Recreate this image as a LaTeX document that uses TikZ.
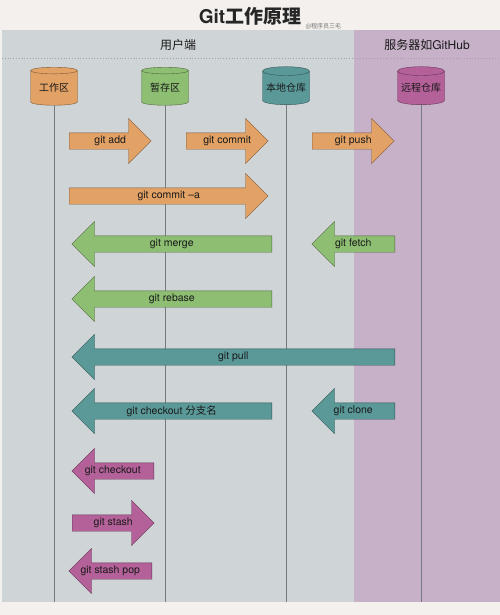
\documentclass[tikz,border=0pt]{standalone}
\usepackage{fontspec}
\setmainfont{TeX Gyre Heros}
\newfontfamily\cjk{Noto Sans CJK SC}
\usetikzlibrary{shapes.geometric,shapes.arrows}

\definecolor{pagebg}{RGB}{243,240,237}
\definecolor{clientbg}{RGB}{207,212,215}
\definecolor{serverbg}{RGB}{199,177,200}
\definecolor{lanegray}{RGB}{118,122,126}
\definecolor{cmdorange}{RGB}{226,161,101}
\definecolor{cmdgreen}{RGB}{141,190,114}
\definecolor{cmdteal}{RGB}{91,153,153}
\definecolor{cmdpink}{RGB}{180,97,154}

\tikzset{
  repo/.style={cylinder, shape border rotate=90, aspect=0.22, draw=#1!55!black, fill=#1,
    minimum width=47pt, minimum height=38pt, inner sep=0pt,
    font=\cjk\fontsize{10}{12}\selectfont, text=black!90},
  lane/.style={draw=lanegray, line width=0.9pt},
  cmd/.style={single arrow, draw=#1!55!black, fill=#1, single arrow head extend=14.5pt,
    text height=6pt, text depth=1.5pt, inner ysep=4.25pt, inner xsep=0pt, anchor=tail},
  cmdleft/.style={cmd=#1, shape border rotate=180},
  cmdtext/.style={font=\fontsize{10.5}{12}\selectfont, text=black!90, inner sep=0pt},
  header/.style={font=\cjk\fontsize{12}{14}\selectfont, text=black!90},
}

\begin{document}
\begin{tikzpicture}[x=1pt, y=-1pt]

\useasboundingbox (0,0) rectangle (500,615);
\fill[pagebg] (0,0) rectangle (500,615);

% Title
\node[font=\bfseries\fontsize{19}{22}\selectfont, text=black!85] (title) at (250,16) {Git{\cjk\bfseries 工作原理}};
\node[font=\cjk\fontsize{6}{7}\selectfont, text=black!55, anchor=west] (credit) at (302,26) {@程序员三毛};

% ===== Lanes: client and server =====
\fill[clientbg] (2,30.5) rectangle (354,602);
\fill[serverbg] (354,30.5) rectangle (500,602);
\node[header] (client) at (178,45) {用户端};
\node[header] (server) at (427,45) {服务器如{\fontspec{TeX Gyre Heros}GitHub}};
\draw[lanegray!70, dotted, line width=0.8pt] (2,58) -- (500,58);

% ===== Repositories =====
\node[repo=cmdorange] (work) at (54,88) {工作区};
\node[repo=cmdgreen] (stage) at (165,88) {暂存区};
\node[repo=cmdteal] (local) at (286,88) {本地仓库};
\node[repo=cmdpink] (remote) at (421,88) {远程仓库};

\coordinate (work end) at (54,602);
\coordinate (stage end) at (165,602);
\coordinate (local end) at (286,602);
\coordinate (remote end) at (421,602);
\foreach \r in {work, stage, local, remote}
  \draw[lane] (\r.south) -- (\r\space end);

% ===== Commands =====
% to the right
\node[cmd=cmdorange, minimum height=82pt] (add) at (69,141) {};
\node[cmd=cmdorange, minimum height=82pt] (commit) at (186,141) {};
\node[cmd=cmdorange, minimum height=82pt] (push) at (312,141) {};
\node[cmd=cmdorange, minimum height=199pt] (commit a) at (69,196) {};

% back towards the work area
\node[cmdleft=cmdgreen, minimum height=200pt] (merge) at (272,244) {};
\node[cmdleft=cmdgreen, minimum height=83pt] (fetch) at (395,244) {};
\node[cmdleft=cmdgreen, minimum height=200pt] (rebase) at (272,299) {};
\node[cmdleft=cmdteal, minimum height=323pt] (pull) at (395,357) {};
\node[cmdleft=cmdteal, minimum height=200pt] (checkout branch) at (272,411) {};
\node[cmdleft=cmdteal, minimum height=83pt] (clone) at (395,411) {};

% stash
\node[cmdleft=cmdpink, minimum height=82pt] (checkout) at (154,471) {};
\node[cmd=cmdpink, minimum height=82pt] (stash) at (72,523) {};
\node[cmdleft=cmdpink, minimum height=83pt] (stash pop) at (152,571) {};

% labels centred on each arrow
\foreach \c/\t in {add/git add, commit/git commit, push/git push, commit a/git commit --a,
    merge/git merge, fetch/git fetch, rebase/git rebase, pull/git pull,
    checkout branch/git checkout {\cjk 分支名}, clone/git clone,
    checkout/git checkout, stash/git stash, stash pop/git stash pop}
  \path (\c.tail) -- (\c.tip) node[cmdtext, midway] (\c\space label) {\t};

\end{tikzpicture}
\end{document}
